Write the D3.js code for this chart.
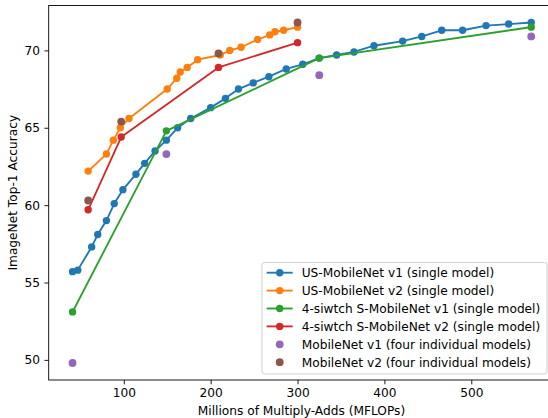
<!DOCTYPE html>
<html>
<head>
<meta charset="utf-8">
<script src="https://cdn.jsdelivr.net/npm/d3@7"></script>
<style>
  html, body { margin: 0; padding: 0; background: #fff; }
  svg { display: block; }
  text { font-family: "DejaVu Sans", sans-serif; }
</style>
</head>
<body>
<svg id="chart" width="548" height="418"></svg>
<script>
// ---- data ----
const usV1Flops = [41, 47, 63, 70, 80, 89, 99, 114, 124, 136, 149, 162, 177, 200, 217, 232, 249, 267, 287, 306, 325, 345, 365, 388, 421, 443, 466, 490, 517, 543, 569];
const usV1Acc   = [55.7, 55.8, 57.3, 58.1, 59.0, 60.1, 61.0, 62.0, 62.7, 63.5, 64.2, 65.0, 65.6, 66.3, 66.9, 67.5, 67.9, 68.3, 68.8, 69.1, 69.5, 69.7, 69.9, 70.3, 70.6, 70.9, 71.3, 71.3, 71.6, 71.7, 71.8];
const usV2Flops = [59, 80, 88, 96, 106, 150, 161, 165, 173, 185, 211, 222, 235, 254, 268, 274, 284, 300];
const usV2Acc   = [62.2, 63.3, 64.2, 65.0, 65.6, 67.5, 68.2, 68.6, 68.9, 69.4, 69.7, 70.0, 70.2, 70.7, 71.0, 71.2, 71.3, 71.5];
const sV1Flops  = [41, 149, 325, 569];
const sV1Acc    = [53.1, 64.8, 69.5, 71.5];
const sV2Flops  = [59, 97, 209, 300];
const sV2Acc    = [59.7, 64.4, 68.9, 70.5];
const mV1Flops  = [41, 149, 325, 569];
const mV1Acc    = [49.8, 63.3, 68.4, 70.9];
const mV2Flops  = [59, 97, 209, 300];
const mV2Acc    = [60.3, 65.4, 69.8, 71.8];
const xTicks = [100, 200, 300, 400, 500];
const yTicks = [50, 55, 60, 65, 70];
const seriesNames = [
  "US-MobileNet v1 (single model)",
  "US-MobileNet v2 (single model)",
  "4-siwtch S-MobileNet v1 (single model)",
  "4-siwtch S-MobileNet v2 (single model)",
  "MobileNet v1 (four individual models)",
  "MobileNet v2 (four individual models)"
];
const xLabel = "Millions of Multiply-Adds (MFLOPs)";
const yLabel = "ImageNet Top-1 Accuracy";

(function () {
  const colors = ["#1f77b4", "#ff7f0e", "#2ca02c", "#d62728", "#9467bd", "#8c564b"];
  const FS = 12.2;
  const pL = 48.7, pR = 554.2, pT = 5.5, pB = 380;

  const svg = d3.select("#chart");
  const x = d3.scaleLinear().domain([13.55, 595.45]).range([pL, pR]);
  const y = d3.scaleLinear().domain([48.7, 72.9]).range([pB, pT]);

  const zip = (a, b) => a.map((v, i) => [v, b[i]]);
  const lineSeries = [
    { pts: zip(usV1Flops, usV1Acc), c: colors[0] },
    { pts: zip(usV2Flops, usV2Acc), c: colors[1] },
    { pts: zip(sV1Flops, sV1Acc), c: colors[2] },
    { pts: zip(sV2Flops, sV2Acc), c: colors[3] }
  ];
  const scatSeries = [
    { pts: zip(mV1Flops, mV1Acc), c: colors[4] },
    { pts: zip(mV2Flops, mV2Acc), c: colors[5] }
  ];

  svg.append("defs").append("clipPath").attr("id", "clip")
    .append("rect").attr("x", pL).attr("y", pT).attr("width", pR - pL).attr("height", pB - pT);

  const plot = svg.append("g").attr("clip-path", "url(#clip)");
  const line = d3.line().x(d => x(d[0])).y(d => y(d[1]));

  lineSeries.forEach(s => {
    const g = plot.append("g");
    g.append("path").datum(s.pts).attr("d", line)
      .attr("fill", "none").attr("stroke", s.c).attr("stroke-width", 1.85)
      .attr("stroke-linejoin", "round").attr("stroke-linecap", "square");
    g.selectAll("circle").data(s.pts).join("circle")
      .attr("cx", d => x(d[0])).attr("cy", d => y(d[1])).attr("r", 3.7).attr("fill", s.c);
  });
  scatSeries.forEach(s => {
    plot.append("g").selectAll("circle").data(s.pts).join("circle")
      .attr("cx", d => x(d[0])).attr("cy", d => y(d[1])).attr("r", 3.9).attr("fill", s.c);
  });

  const xAxis = svg.append("g").attr("transform", `translate(0,${pB})`)
    .call(d3.axisBottom(x).tickValues(xTicks).tickSize(4.3).tickPadding(4.3).tickSizeOuter(0));
  const yAxis = svg.append("g").attr("transform", `translate(${pL},0)`)
    .call(d3.axisLeft(y).tickValues(yTicks).tickSize(4.3).tickPadding(4.3).tickSizeOuter(0));
  [xAxis, yAxis].forEach(a => {
    a.selectAll("text").attr("font-family", "DejaVu Sans").attr("font-size", FS).attr("fill", "#000");
    a.selectAll(".tick line").attr("stroke", "#000").attr("stroke-width", 0.9);
    a.select(".domain").remove();
  });
  svg.append("rect").attr("x", pL).attr("y", pT).attr("width", pR - pL).attr("height", pB - pT)
    .attr("fill", "none").attr("stroke", "#000").attr("stroke-width", 0.9);

  svg.append("text").attr("x", (pL + pR) / 2).attr("y", 414.5)
    .attr("text-anchor", "middle").attr("font-size", FS).text(xLabel);
  svg.append("text").attr("transform", `translate(16.8,${(pT + pB) / 2}) rotate(-90)`)
    .attr("text-anchor", "middle").attr("font-size", FS).text(yLabel);

  const lg = svg.append("g");
  lg.append("rect").attr("x", 262).attr("y", 262.5).attr("width", 285).attr("height", 111.5)
    .attr("rx", 2.5).attr("fill", "#fff").attr("fill-opacity", 0.8)
    .attr("stroke", "#cccccc").attr("stroke-width", 0.9);
  seriesNames.forEach((name, i) => {
    const cy = 272.7 + i * 17.9;
    if (i < 4) {
      lg.append("line").attr("x1", 266.7).attr("x2", 292.7).attr("y1", cy).attr("y2", cy)
        .attr("stroke", colors[i]).attr("stroke-width", 1.85);
    }
    lg.append("circle").attr("cx", 279.7).attr("cy", cy).attr("r", i < 4 ? 3.7 : 3.9).attr("fill", colors[i]);
    lg.append("text").attr("x", 301.7).attr("y", cy + 4.4).attr("font-size", FS).text(name);
  });
})();
</script>
</body>
</html>
